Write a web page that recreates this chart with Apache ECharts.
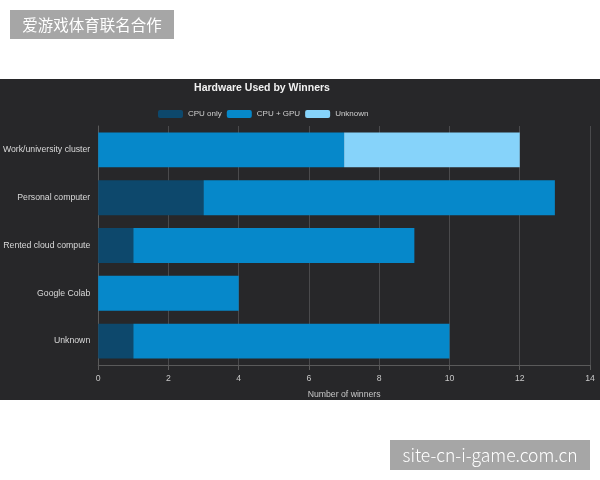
<!DOCTYPE html>
<html>
<head>
<meta charset="utf-8">
<script src="https://cdn.jsdelivr.net/npm/echarts@6/dist/echarts.min.js"></script>
<style>
  html, body { margin: 0; padding: 0; background: #fff; }
  #panel { position: absolute; left: 0; top: 79px; width: 600px; height: 321px; background: #272729; }
  #chart { position: absolute; left: 0; top: 0; width: 600px; height: 480px; }
</style>
</head>
<body>
<div id="panel"></div>
<div id="chart"></div>
<script>
const categories = ['Work/university cluster', 'Personal computer', 'Rented cloud compute', 'Google Colab', 'Unknown'];
const cpuOnly = [0, 3, 1, 0, 1];
const cpuGpu = [7, 10, 8, 4, 9];
const unknownHw = [5, 0, 0, 0, 0];

const chart = echarts.init(document.getElementById('chart'));

const barStyle = (name, data, color) => ({
  name: name,
  type: 'bar',
  stack: 'total',
  data: data,
  barWidth: '73%',
  itemStyle: { color: color }
});

chart.setOption({
  backgroundColor: 'transparent',
  animation: false,
  title: {
    text: 'Hardware Used by Winners',
    left: 257,
    textAlign: 'center',
    top: 78,
    textStyle: { color: '#f2f2f2', fontSize: 10.5, fontWeight: 'bold', fontFamily: 'Liberation Sans' }
  },
  legend: {
    top: 105,
    left: 153,
    itemWidth: 25,
    itemHeight: 8,
    itemGap: 5,
    textStyle: { color: '#d0d0d0', fontSize: 8, fontFamily: 'Liberation Sans' },
    data: ['CPU only', 'CPU + GPU', 'Unknown']
  },
  grid: { left: 96.5, right: 10, top: 126, bottom: 115 },
  xAxis: {
    type: 'value',
    min: 0,
    max: 14,
    interval: 2,
    name: 'Number of winners',
    nameLocation: 'middle',
    nameGap: 25,
    nameTextStyle: { color: '#c8c8c8', fontSize: 8.7, fontFamily: 'Liberation Sans' },
    axisLine: { show: true, lineStyle: { color: '#5a5a5a' } },
    axisTick: { show: true, length: 5, lineStyle: { color: '#5a5a5a' } },
    axisLabel: { color: '#c8c8c8', fontSize: 8.7, fontFamily: 'Liberation Sans', margin: 9 },
    splitLine: { show: true, lineStyle: { color: '#4a4a4c', width: 1 } }
  },
  yAxis: {
    type: 'category',
    inverse: true,
    data: categories,
    axisLine: { show: true, lineStyle: { color: '#5a5a5a' } },
    axisTick: { show: false },
    axisLabel: { color: '#dadada', fontSize: 8.7, fontFamily: 'Liberation Sans', margin: 8 }
  },
  series: [
    barStyle('CPU only', cpuOnly, '#0d486c'),
    barStyle('CPU + GPU', cpuGpu, '#0688ca'),
    barStyle('Unknown', unknownHw, '#86d3fa')
  ],
  graphic: [
    {
      type: 'group', left: 10, top: 10,
      children: [
        { type: 'rect', shape: { x: 0, y: 0, width: 164, height: 29 }, style: { fill: '#a6a6a6' } },
        { type: 'text', x: 82, y: 15, style: { text: '爱游戏体育联名合作', fill: '#fff', fontSize: 15.5, fontFamily: 'Noto Sans CJK SC', align: 'center', verticalAlign: 'middle' } }
      ]
    },
    {
      type: 'group', left: 390, top: 440,
      children: [
        { type: 'rect', shape: { x: 0, y: 0, width: 200, height: 30 }, style: { fill: '#a6a6a6' } },
        { type: 'text', x: 100, y: 15, style: { text: 'site-cn-i-game.com.cn', fill: '#fff', fontSize: 17.5, fontFamily: 'Noto Sans CJK SC', fontWeight: 300, align: 'center', verticalAlign: 'middle' } }
      ]
    }
  ]
});
</script>
</body>
</html>
